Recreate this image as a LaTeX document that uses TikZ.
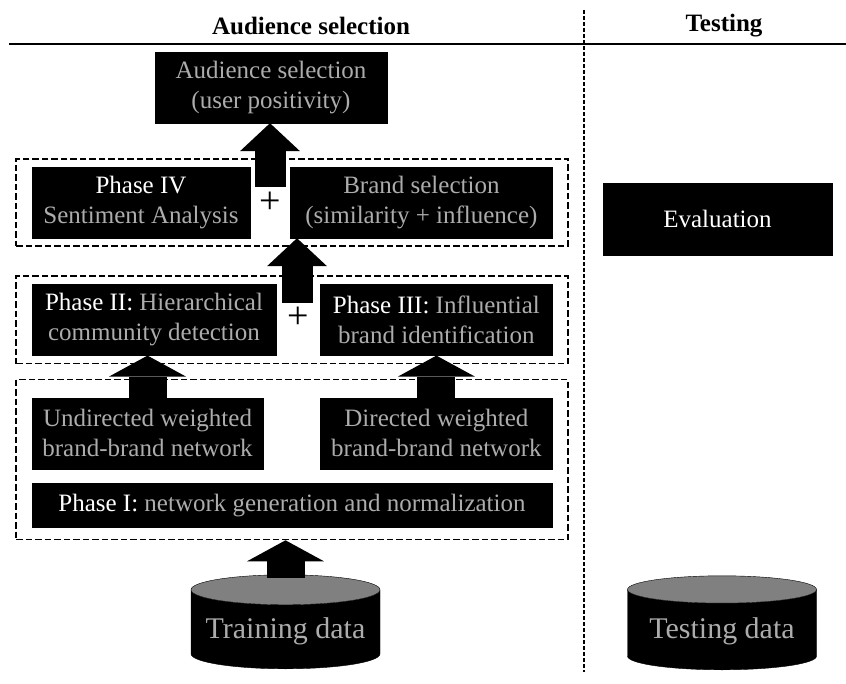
\documentclass[tikz,border=0pt]{standalone}
\usepackage{fontspec}
\setmainfont{Liberation Serif}
\definecolor{boxgray}{RGB}{172,172,172}
\definecolor{endgray}{RGB}{128,128,128}
\usetikzlibrary{calc}
\usetikzlibrary{positioning}
\usetikzlibrary{arrows.meta,shapes.geometric,fit,backgrounds}
\newcommand{\boxfont}{\fontsize{25}{30}\selectfont}
\newcommand{\phaselbl}[1]{\textcolor{white}{#1}}
\tikzset{
  blackbox/.style={fill=black, draw=black, align=center, inner sep=0pt, text=boxgray, font=\boxfont},
  hdr/.style={font=\boxfont\bfseries},
  phaseframe/.style={draw=black, line width=1.8pt, dash pattern=on 6.5pt off 3pt, inner xsep=15.5pt, inner ysep=8pt},
  fatup/.style={line width=31pt, -{Triangle[width=60pt, length=28pt, line width=0pt]}},
  fatupwide/.style={line width=38pt, -{Triangle[width=77pt, length=21pt, line width=0pt]}},
  datastore/.style={cylinder, shape border rotate=90, aspect=0.18, draw=black, cylinder uses custom fill, cylinder body fill=black, cylinder end fill=endgray, minimum width=189pt, minimum height=94pt, text=boxgray, font=\fontsize{30}{36}\selectfont, anchor=south}
}

\begin{document}
\begin{tikzpicture}[x=1pt, y=-1pt]
  \useasboundingbox (0,0) rectangle (846,684);

  \node[hdr] (hdrsel)  at (311,26) {Audience selection};
  \node[hdr] (hdrtest) at (724,26) {Testing};
  \draw[line width=2.2pt] (9,44) -- (846,44);
  \draw[line width=1.2pt, dash pattern=on 4pt off 2pt] (584,10) -- (584,672);

  \node[blackbox, minimum width=232pt, minimum height=71pt] (aud) at (271,87.5) {Audience selection\\(user positivity)};

  \node[blackbox, minimum width=218pt, minimum height=71pt] (ph4) at (141,202.5) {\phaselbl{Phase IV}\\Sentiment Analysis};
  \node[blackbox, minimum width=262pt, minimum height=71pt, right=40pt of ph4] (brand) {Brand selection\\(similarity + influence)};

  \node[blackbox, minimum width=244pt, minimum height=71pt, below right=46pt and 0pt of ph4.south west] (ph2) {\phaselbl{Phase II:} Hierarchical\\community detection};
  \node[blackbox, minimum width=232pt, minimum height=71pt, right=44pt of ph2] (ph3) {\phaselbl{Phase III:} Influential\\brand identification};

  \node[blackbox, minimum width=231pt, minimum height=71pt, below right=42pt and 0pt of ph2.south west] (undir) {Undirected weighted\\brand-brand network};
  \node[blackbox, minimum width=232pt, minimum height=71pt, right=57pt of undir] (dir) {Directed weighted\\brand-brand network};
  \node[blackbox, minimum width=520pt, minimum height=44pt, below right=14pt and 0pt of undir.south west] (ph1) {\phaselbl{Phase I:} network generation and normalization};

  \node[blackbox, minimum width=229pt, minimum height=72pt, text=white] (eval) at (717.5,219) {Evaluation};

  \node[datastore] (train) at (285.5,669) {Training data};
  \node[datastore] (test)  at (722,670) {Testing data};

  \coordinate (f1top) at ($(undir.north)+(0pt,6pt)$);
  \begin{scope}[on background layer]
    \node[phaseframe, fit=(ph4) (brand)] (f4) {};
    \node[phaseframe, fit=(ph2) (ph3)] (f23) {};
    \node[phaseframe, inner ysep=12pt, fit=(undir) (dir) (ph1) (f1top)] (f1) {};
  \end{scope}

  \node[font=\fontsize{38}{40}\selectfont] (plus4) at (270,203) {+};
  \node[font=\fontsize{38}{40}\selectfont] (plus23) at (298,318) {+};

  \coordinate (a1) at (270,187);
  \coordinate (a2) at (297,303);
  \draw[fatup] (a1) -- (a1 |- aud.south);
  \draw[fatup] (a2) -- (a2 |- brand.south);
  \draw[fatupwide] (undir.north) -- (undir.north |- ph2.south);
  \draw[fatupwide] (dir.north) -- (dir.north |- ph3.south);
  \draw[fatupwide] ($(train.north)+(0pt,-3pt)$) -- (train.north |- f1.south);

\end{tikzpicture}
\end{document}
